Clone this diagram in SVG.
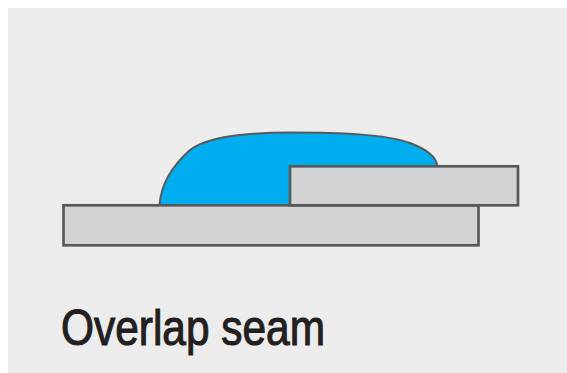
<svg xmlns="http://www.w3.org/2000/svg" width="567" height="373" viewBox="0 0 567 373">
<style>.p{fill:#d1d3d4;stroke:#58595b;stroke-width:2.7}</style>
<rect width="567" height="373" fill="#fff"/>
<rect x="8" y="8" width="559" height="365" fill="#ececec"/>
<path d="M159.500 205C161 185 172 166 190 150C207 137 245 132.500 290 132.500C340 132.500 385 134 410 143C428 150 437 157 437 166L437 205Z" fill="#00aeef" stroke="#58595b" stroke-width="2"/>
<rect class="p" x="63.500" y="205.300" width="415" height="40"/>
<rect class="p" x="290" y="166.300" width="228" height="39"/>
<text x="61" y="344.500" font-family="'Liberation Sans',sans-serif" font-size="50" fill="#231f20" stroke="#231f20" stroke-width="1.1" textLength="264" lengthAdjust="spacingAndGlyphs">Overlap seam</text>
</svg>
